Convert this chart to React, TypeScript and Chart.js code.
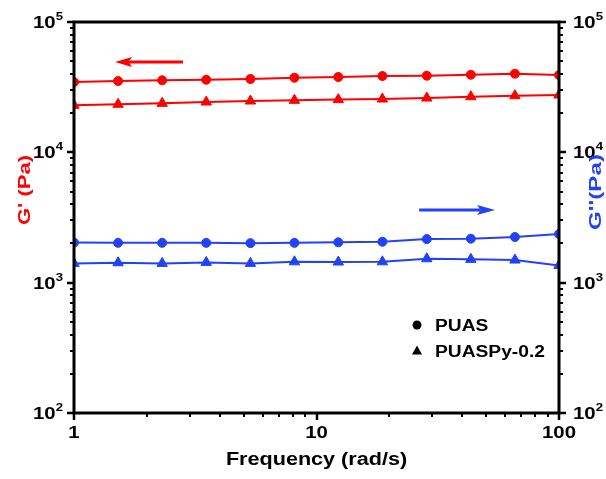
import React, { useEffect, useRef } from "react";
import { Chart, registerables } from "chart.js";

Chart.register(...registerables);

// ---- data ----
const frequency = [1, 1.52, 2.31, 3.51, 5.34, 8.11, 12.3, 18.7, 28.5, 43.3, 65.8, 100];
const storagePUAS = [34640, 35250, 35690, 36060, 36520, 37370, 37840, 38510, 38720, 39400, 40110, 39200];
const storagePUASPy = [22950, 23360, 23770, 24320, 24760, 25070, 25380, 25640, 26110, 26710, 27190, 27530];
const lossPUAS = [2030, 2020, 2020, 2020, 2010, 2020, 2040, 2060, 2160, 2175, 2240, 2360];
const lossPUASPy = [1406, 1421, 1406, 1431, 1406, 1446, 1440, 1446, 1526, 1510, 1491, 1357];

const xTickValues = [1, 10, 100];
const yDecades = [2, 3, 4, 5];
const legendLabels = ["PUAS", "PUASPy-0.2"];
const leftTitle = "G' (Pa)";
const rightTitle = "G''(Pa)";
const xTitle = "Frequency (rad/s)";
const storageArrow = { from: 2.815, to: 1.476, y: 49300 };
const lossArrow = { from: 26.5, to: 54.5, y: 3606 };

const RED = "#ff0000";
const BLUE = "#2342f5";
const FONT = '"Liberation Sans", Arial, sans-serif';

function stretchedText(
  ctx: CanvasRenderingContext2D,
  s: string,
  x: number,
  y: number,
  size: number,
  color: string,
  align: CanvasTextAlign,
  sx: number,
  rot = 0
) {
  ctx.save();
  ctx.translate(x, y);
  if (rot) ctx.rotate(rot);
  ctx.scale(sx, 1);
  ctx.font = `bold ${size}px ${FONT}`;
  ctx.fillStyle = color;
  ctx.textAlign = align;
  ctx.textBaseline = "alphabetic";
  ctx.fillText(s, 0, 0);
  ctx.restore();
}

function textWidth(ctx: CanvasRenderingContext2D, s: string, size: number) {
  ctx.save();
  ctx.font = `bold ${size}px ${FONT}`;
  const w = ctx.measureText(s).width;
  ctx.restore();
  return w;
}

function arrow(ctx: CanvasRenderingContext2D, x0: number, x1: number, y: number, color: string, headLen: number, headHalf: number) {
  const dir = Math.sign(x1 - x0);
  ctx.save();
  ctx.strokeStyle = color;
  ctx.fillStyle = color;
  ctx.lineWidth = 3;
  ctx.beginPath();
  ctx.moveTo(x0, y);
  ctx.lineTo(x1 - dir * headLen * 0.8, y);
  ctx.stroke();
  ctx.beginPath();
  ctx.moveTo(x1, y);
  ctx.lineTo(x1 - dir * headLen, y - headHalf);
  ctx.lineTo(x1 - dir * headLen * 0.8, y);
  ctx.lineTo(x1 - dir * headLen, y + headHalf);
  ctx.closePath();
  ctx.fill();
  ctx.restore();
}

const decor = {
  id: "decor",
  afterDraw(chart: any) {
    const ctx: CanvasRenderingContext2D = chart.ctx;
    const { left, right, top, bottom } = chart.chartArea;
    const xs = chart.scales.x;
    const yl = chart.scales.yL;
    const yr = chart.scales.yR;
    const SX = 1.2;

    // arrows
    arrow(ctx, xs.getPixelForValue(storageArrow.from), xs.getPixelForValue(storageArrow.to), yl.getPixelForValue(storageArrow.y), RED, 17, 5);
    arrow(ctx, xs.getPixelForValue(lossArrow.from), xs.getPixelForValue(lossArrow.to), yr.getPixelForValue(lossArrow.y), BLUE, 18, 5);

    ctx.save();
    ctx.strokeStyle = "#000";
    ctx.lineCap = "butt";

    // minor & major ticks
    for (const d of [0, 1]) {
      for (let m = 1; m <= 9; m++) {
        const v = m * Math.pow(10, d);
        const px = Math.round(xs.getPixelForValue(v));
        const major = m === 1;
        ctx.lineWidth = major ? 2.5 : 2;
        ctx.beginPath();
        ctx.moveTo(px, bottom);
        ctx.lineTo(px, bottom + (major ? 7 : 4));
        ctx.stroke();
      }
    }
    ctx.lineWidth = 2.5;
    ctx.beginPath();
    ctx.moveTo(xs.getPixelForValue(100), bottom);
    ctx.lineTo(xs.getPixelForValue(100), bottom + 7);
    ctx.stroke();

    for (const d of [2, 3, 4]) {
      for (let m = 1; m <= 9; m++) {
        const v = m * Math.pow(10, d);
        const major = m === 1;
        const len = major ? 7 : 4;
        ctx.lineWidth = major ? 2.5 : 2;
        const pyL = Math.round(yl.getPixelForValue(v));
        const pyR = Math.round(yr.getPixelForValue(v));
        ctx.beginPath();
        ctx.moveTo(left, pyL);
        ctx.lineTo(left - len, pyL);
        ctx.moveTo(right, pyR);
        ctx.lineTo(right + len, pyR);
        ctx.stroke();
      }
    }
    ctx.lineWidth = 2.5;
    ctx.beginPath();
    ctx.moveTo(left, yl.getPixelForValue(1e5));
    ctx.lineTo(left - 7, yl.getPixelForValue(1e5));
    ctx.moveTo(right, yr.getPixelForValue(1e5));
    ctx.lineTo(right + 7, yr.getPixelForValue(1e5));
    ctx.stroke();

    // frame
    ctx.lineWidth = 3;
    ctx.strokeRect(left, top, right - left, bottom - top);
    ctx.restore();

    // x tick labels
    for (const v of xTickValues) {
      stretchedText(ctx, String(v), xs.getPixelForValue(v), bottom + 25, 17, "#000", "center", SX);
    }
    // y tick labels with superscripts
    for (const e of yDecades) {
      const v = Math.pow(10, e);
      const base = "10";
      const sup = String(e);
      const wb = textWidth(ctx, base, 17) * SX;
      const ws = textWidth(ctx, sup, 11) * SX;
      const pyL = yl.getPixelForValue(v);
      const pyR = yr.getPixelForValue(v);
      const endL = left - 11;
      stretchedText(ctx, base, endL - ws - wb, pyL + 6, 17, "#000", "left", SX);
      stretchedText(ctx, sup, endL - ws, pyL - 2, 11, "#000", "left", SX);
      const startR = right + 14;
      stretchedText(ctx, base, startR, pyR + 6, 17, "#000", "left", SX);
      stretchedText(ctx, sup, startR + wb, pyR - 2, 11, "#000", "left", SX);
    }

    // axis titles
    stretchedText(ctx, xTitle, (left + right) / 2, bottom + 52, 18, "#000", "center", SX);
    const lw = textWidth(ctx, leftTitle, 17);
    stretchedText(ctx, leftTitle, 30, 190, 17, RED, "center", 70 / lw, -Math.PI / 2);
    const rw = textWidth(ctx, rightTitle, 17);
    stretchedText(ctx, rightTitle, 601, 192, 17, BLUE, "center", 76 / rw, -Math.PI / 2);

    // legend
    const lx = 417;
    const ly = [325, 351];
    ctx.save();
    ctx.fillStyle = "#000";
    ctx.beginPath();
    ctx.arc(lx, ly[0], 4.5, 0, Math.PI * 2);
    ctx.fill();
    ctx.beginPath();
    ctx.moveTo(lx, ly[1] - 5.5);
    ctx.lineTo(lx + 5, ly[1] + 3.5);
    ctx.lineTo(lx - 5, ly[1] + 3.5);
    ctx.closePath();
    ctx.fill();
    ctx.restore();
    legendLabels.forEach((lab, i) => {
      stretchedText(ctx, lab, lx + 18, ly[i] + 6, 16, "#000", "left", SX);
    });
  },
};

export default function App() {
  const ref = useRef<HTMLCanvasElement>(null);
  useEffect(() => {
    if (!ref.current) return;
    const mk = (vals: number[]) => frequency.map((f, i) => ({ x: f, y: vals[i] }));
    const chart = new Chart(ref.current, {
      type: "line",
      data: {
        datasets: [
          { label: "PUAS G'", data: mk(storagePUAS), yAxisID: "yL", borderColor: RED, backgroundColor: RED, pointStyle: "circle", pointRadius: 4.5, pointBorderWidth: 1, borderWidth: 2 },
          { label: "PUASPy-0.2 G'", data: mk(storagePUASPy), yAxisID: "yL", borderColor: RED, backgroundColor: RED, pointStyle: "triangle", pointRadius: 6, pointBorderWidth: 1, borderWidth: 2 },
          { label: "PUAS G''", data: mk(lossPUAS), yAxisID: "yR", borderColor: BLUE, backgroundColor: BLUE, pointStyle: "circle", pointRadius: 4.5, pointBorderWidth: 1, borderWidth: 2 },
          { label: "PUASPy-0.2 G''", data: mk(lossPUASPy), yAxisID: "yR", borderColor: BLUE, backgroundColor: BLUE, pointStyle: "triangle", pointRadius: 6, pointBorderWidth: 1, borderWidth: 2 },
        ],
      },
      options: {
        responsive: false,
        animation: false,
        layout: { padding: { left: 74, right: 47, top: 22, bottom: 66 } },
        plugins: { legend: { display: false }, tooltip: { enabled: false } },
        scales: {
          x: { type: "logarithmic", min: 1, max: 100, display: false },
          yL: { type: "logarithmic", position: "left", min: 100, max: 100000, display: false },
          yR: { type: "logarithmic", position: "right", min: 100, max: 100000, display: false },
        },
      },
      plugins: [decor],
    });
    return () => chart.destroy();
  }, []);
  return (
    <div style={{ position: "absolute", left: 0, top: 0, width: 606, height: 479, background: "#fff" }}>
      <canvas ref={ref} width={606} height={479} style={{ display: "block" }} />
    </div>
  );
}
